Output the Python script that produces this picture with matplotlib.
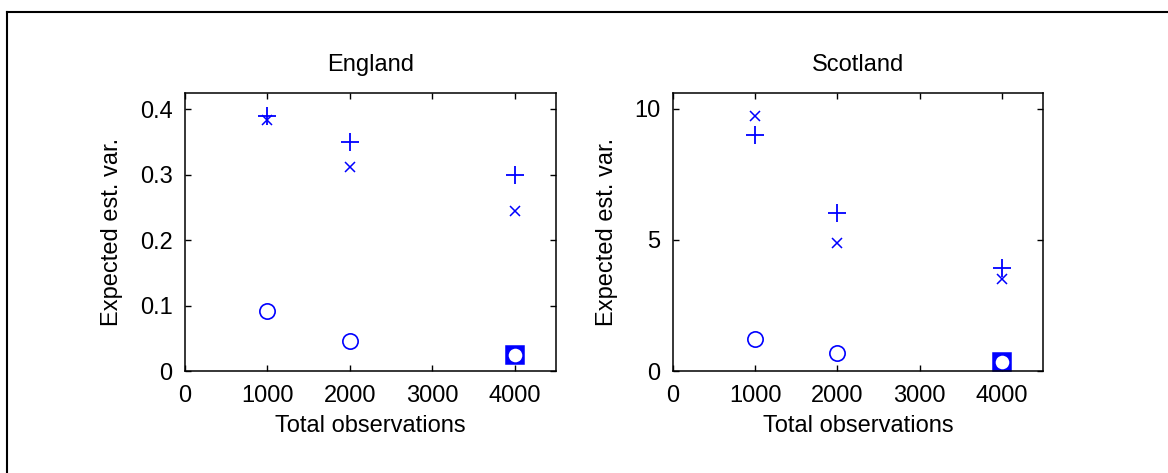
import matplotlib.pyplot as plt
from matplotlib.lines import Line2D

# data
obs = [1000, 2000, 4000]
eng_plus = [0.389, 0.350, 0.299]
eng_cross = [0.383, 0.311, 0.245]
eng_circle = [0.0916, 0.0458, 0.0244]
eng_square = [0.0244]
sco_plus = [9.01, 6.02, 3.93]
sco_cross = [9.73, 4.88, 3.49]
sco_circle = [1.22, 0.67, 0.35]
sco_square = [0.35]
square_obs = [4000]

xticks = [0, 1000, 2000, 3000, 4000]
eng_yticks = [0, 0.1, 0.2, 0.3, 0.4]
sco_yticks = [0, 5, 10]

plt.rcParams['font.family'] = ['Liberation Sans', 'DejaVu Sans']
fs = 17
blue = '#0000ff'

fig = plt.figure(figsize=(11.68, 4.73), dpi=100)
fig.patch.set_facecolor('white')

# screenshot frame (only top and left visible)
fig.add_artist(Line2D([0.006, 1.0], [0.9746, 0.9746], color='black', lw=1.5))
fig.add_artist(Line2D([0.006, 0.006], [0.0, 0.9746], color='black', lw=1.5))

panels = [
    ('England', [0.1584, 0.2156, 0.3176, 0.5877], eng_plus, eng_cross, eng_circle, eng_square,
     0.4244, eng_yticks, ['0', '0.1', '0.2', '0.3', '0.4']),
    ('Scotland', [0.5762, 0.2156, 0.3168, 0.5877], sco_plus, sco_cross, sco_circle, sco_square,
     10.59, sco_yticks, ['0', '5', '10']),
]

for title, pos, p, c, o, s, ytop, yt, ytl in panels:
    ax = fig.add_axes(pos)
    ax.plot(obs, p, linestyle='none', marker='+', ms=13, mew=1.3, color=blue)
    ax.plot(obs, c, linestyle='none', marker='x', ms=7, mew=1.1, color=blue)
    ax.plot(square_obs, s, linestyle='none', marker='s', ms=12.5, mew=1.1,
            color=blue, mfc=blue)
    ax.plot(obs, o, linestyle='none', marker='o', ms=11, mew=1.2,
            color=blue, mfc='white')
    ax.set_xlim(0, 4500)
    ax.set_ylim(0, ytop)
    ax.set_xticks(xticks)
    ax.set_xticklabels([str(t) for t in xticks], fontsize=fs)
    ax.set_yticks(yt)
    ax.set_yticklabels(ytl, fontsize=fs)
    ax.tick_params(direction='in', length=4, width=1, top=True, right=True)
    ax.tick_params(axis='x', pad=10)
    ax.tick_params(axis='y', pad=9)
    for sp in ax.spines.values():
        sp.set_linewidth(1.1)
    ax.set_title(title, fontsize=fs, pad=16)
    ax.set_xlabel('Total observations', fontsize=fs, labelpad=6)
    ax.set_ylabel('Expected est. var.', fontsize=fs, labelpad=12)

plt.savefig('out.png', dpi=100)
plt.close()
